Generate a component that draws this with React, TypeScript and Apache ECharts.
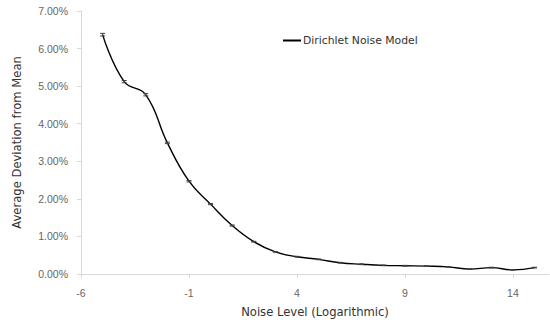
import React, { useEffect, useRef } from "react";
import * as echarts from "echarts";

// Noise level (log scale) and average deviation from mean, in percent
const noiseLevels = [-5, -4, -3, -2, -1, 0, 1, 2, 3, 4, 5, 6, 7, 8, 9, 10, 11, 12, 13, 14, 15];
const deviation = [6.37, 5.12, 4.77, 3.49, 2.47, 1.86, 1.29, 0.86, 0.59, 0.46, 0.39, 0.3, 0.26, 0.23, 0.22, 0.21, 0.19, 0.13, 0.17, 0.11, 0.17];
const errorSize = [0.035, 0.03, 0.03, 0.02, 0.02, 0.015, 0.015, 0.01, 0.01, 0.01, 0.01, 0.01, 0.01, 0.01, 0.01, 0.01, 0.01, 0.01, 0.01, 0.01, 0.01];
const xTicks = [-6, -1, 4, 9, 14];
const seriesName = "Dirichlet Noise Model";

export default function App() {
  const ref = useRef<HTMLDivElement>(null);

  useEffect(() => {
    if (!ref.current) return;
    const chart = echarts.init(ref.current, null, { renderer: "svg" });
    const lineData = noiseLevels.map((x, i) => [x, deviation[i]]);
    const errData = noiseLevels.map((x, i) => [x, deviation[i] - errorSize[i], deviation[i] + errorSize[i]]);
    const axisColor = "#d9d9d9";
    const labelStyle = { color: "#666666", fontSize: 10.5, fontFamily: "'Liberation Sans', Arial, sans-serif" };
    const titleFont = "'DejaVu Sans', sans-serif";

    chart.setOption({
      animation: false,
      backgroundColor: "#ffffff",
      grid: { left: 81, right: 1, top: 11, bottom: 51, containLabel: false },
      legend: {
        data: [{ name: seriesName, icon: "rect" }],
        left: 283,
        top: 35,
        padding: 0,
        itemWidth: 18,
        itemHeight: 2,
        itemGap: 4,
        textStyle: { color: "#333333", fontSize: 10.8, fontFamily: titleFont, padding: [0, 0, 0, -3] },
      },
      xAxis: {
        type: "value",
        min: -6,
        max: 15.67,
        interval: 5,
        name: "Noise Level (Logarithmic)",
        nameLocation: "middle",
        nameGap: 32,
        nameTextStyle: { color: "#333333", fontSize: 11.6, fontFamily: titleFont },
        splitLine: { show: false },
        axisLine: { show: true, onZero: false, lineStyle: { color: axisColor, width: 1 } },
        axisTick: { show: true, length: 4, customValues: xTicks, lineStyle: { color: axisColor } },
        axisLabel: { ...labelStyle, margin: 13, customValues: xTicks, formatter: (v: number) => String(v) },
      },
      yAxis: {
        type: "value",
        min: 0,
        max: 7,
        interval: 1,
        name: "Average Deviation from Mean",
        nameLocation: "middle",
        nameGap: 58,
        nameTextStyle: { color: "#333333", fontSize: 11.6, fontFamily: titleFont },
        splitLine: { show: false },
        axisLine: { show: true, onZero: false, lineStyle: { color: axisColor, width: 1 } },
        axisTick: { show: true, length: 4, lineStyle: { color: axisColor } },
        axisLabel: { ...labelStyle, margin: 13, formatter: (v: number) => v.toFixed(2) + "%" },
      },
      series: [
        {
          name: seriesName,
          type: "line",
          data: lineData,
          smooth: 0.45,
          showSymbol: false,
          symbol: "none",
          lineStyle: { color: "#000000", width: 1.4 },
          itemStyle: { color: "#000000" },
          z: 3,
        },
        {
          name: "errors",
          type: "custom",
          data: errData,
          z: 4,
          renderItem: (params: any, api: any) => {
            const x = api.value(0);
            const lo = api.coord([x, api.value(1)]);
            const hi = api.coord([x, api.value(2)]);
            const cap = 2.5;
            const style = { stroke: "#404040", lineWidth: 1 };
            return {
              type: "group",
              children: [
                { type: "line", shape: { x1: lo[0], y1: lo[1], x2: hi[0], y2: hi[1] }, style },
                { type: "line", shape: { x1: lo[0] - cap, y1: lo[1], x2: lo[0] + cap, y2: lo[1] }, style },
                { type: "line", shape: { x1: hi[0] - cap, y1: hi[1], x2: hi[0] + cap, y2: hi[1] }, style },
              ],
            };
          },
        },
      ],
    });
    return () => chart.dispose();
  }, []);

  return <div ref={ref} style={{ position: "fixed", left: 0, top: 0, width: 550, height: 325 }} />;
}
